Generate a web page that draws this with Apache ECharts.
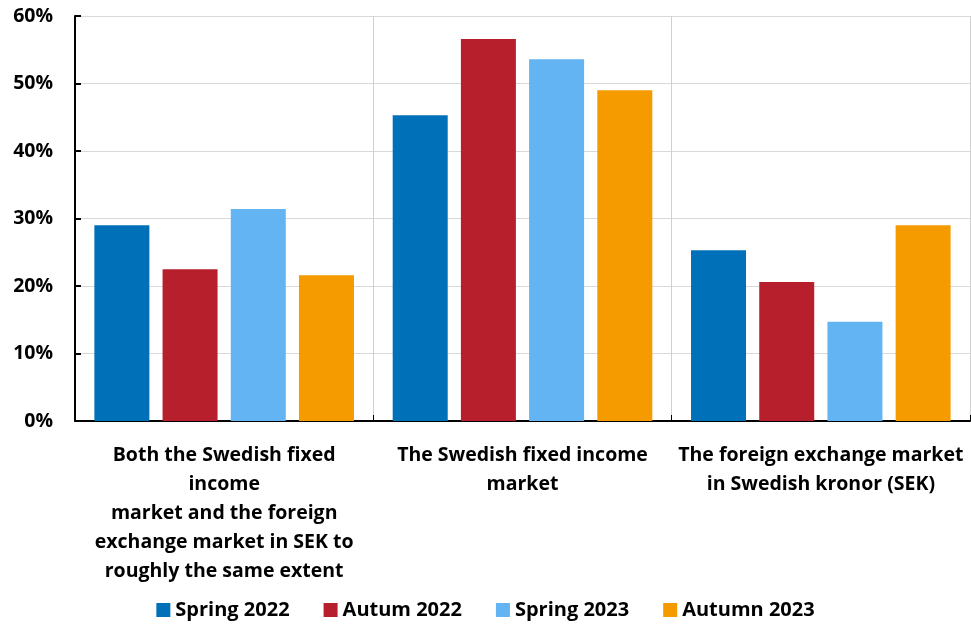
<!DOCTYPE html>
<html>
<head>
<meta charset="utf-8">
<script src="https://cdn.jsdelivr.net/npm/echarts@6/dist/echarts.min.js"></script>
<style>
  html, body { margin: 0; padding: 0; background: #fff; }
  #chart { width: 971px; height: 625px; }
</style>
</head>
<body>
<div id="chart"></div>
<script>
const categories = [
  'Both the Swedish fixed\nincome\nmarket and the foreign\nexchange market in SEK to\nroughly the same extent',
  'The Swedish fixed income\nmarket',
  'The foreign exchange market\nin Swedish kronor (SEK)'
]
const seriesNames = ['Spring 2022', 'Autum 2022', 'Spring 2023', 'Autumn 2023']
const spring2022 = [29.0, 45.3, 25.3]
const autum2022 = [22.5, 56.6, 20.6]
const spring2023 = [31.4, 53.6, 14.7]
const autumn2023 = [21.6, 49.0, 29.0]
const colors = ['#0070b8', '#b81f2d', '#62b4f3', '#f59b00']

const font = '"Open Sans", Lato, sans-serif'
const chart = echarts.init(document.getElementById('chart'))

const values = [spring2022, autum2022, spring2023, autumn2023]
const option = {
  animation: false,
  color: colors,
  grid: { left: 75, right: 1, top: 16, bottom: 204 },
  legend: {
    bottom: 0,
    itemWidth: 14,
    itemHeight: 14,
    itemGap: 34,
    icon: 'rect',
    textStyle: { fontFamily: font, fontWeight: 'bold', fontSize: 20, color: '#000' },
    data: seriesNames
  },
  xAxis: {
    type: 'category',
    data: categories,
    axisLine: { lineStyle: { color: '#000', width: 2 } },
    axisTick: { show: true, inside: true, length: 6, lineStyle: { color: '#000' } },
    splitLine: { show: true, lineStyle: { color: '#d0d0d0', width: 1 } },
    axisLabel: {
      interval: 0,
      margin: 20,
      fontFamily: font,
      fontWeight: 'bold',
      fontSize: 19.5,
      lineHeight: 29,
      color: '#000'
    }
  },
  yAxis: {
    type: 'value',
    min: 0,
    max: 60,
    interval: 10,
    axisLine: { show: true, lineStyle: { color: '#000', width: 2 } },
    axisTick: { show: true, inside: true, length: 6, lineStyle: { color: '#000', width: 2 } },
    splitLine: { lineStyle: { color: '#d9d9d9', width: 1 } },
    axisLabel: {
      formatter: '{value}%',
      margin: 22,
      fontFamily: font,
      fontWeight: 'bold',
      fontSize: 19.5,
      color: '#000'
    }
  },
  series: seriesNames.map((name, i) => ({
    name: name,
    type: 'bar',
    barWidth: 55,
    barGap: '24%',
    data: values[i]
  }))
}

chart.setOption(option)
</script>
</body>
</html>
